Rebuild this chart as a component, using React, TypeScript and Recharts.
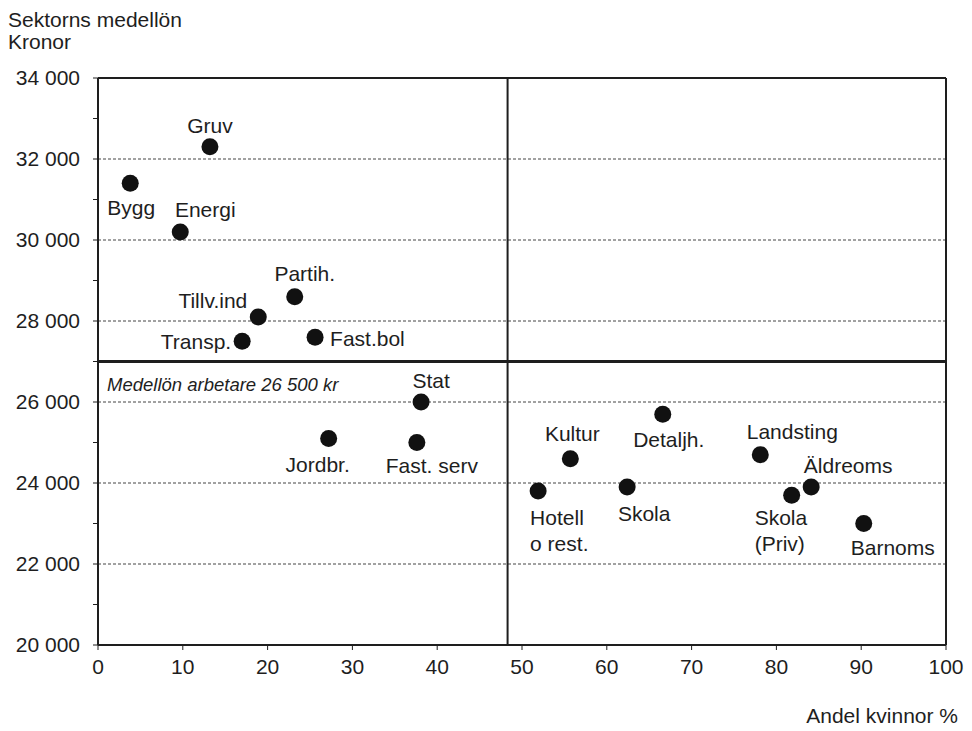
import { ScatterChart, Scatter, XAxis, YAxis, ReferenceLine } from "recharts";

// Sektorer: andel kvinnor (%) och sektorns medellön (kr)
const sectors = [
  "Gruv", "Bygg", "Energi", "Partih.", "Tillv.ind", "Transp.", "Fast.bol", "Stat", "Jordbr.",
  "Fast. serv", "Kultur", "Detaljh.", "Hotell\no rest.", "Skola", "Landsting", "Äldreoms",
  "Skola\n(Priv)", "Barnoms",
];
const womenShare = [13.2, 3.8, 9.7, 23.2, 18.9, 17.0, 25.6, 38.1, 27.2, 37.6, 55.7, 66.6, 51.9, 62.4, 78.1, 84.1, 81.8, 90.3];
const avgSalary = [32300, 31400, 30200, 28600, 28100, 27500, 27600, 26000, 25100, 25000, 24600, 25700, 23800, 23900, 24700, 23900, 23700, 23000];

const xTicks = [0, 10, 20, 30, 40, 50, 60, 70, 80, 90, 100];
const yTicks = [20000, 21000, 22000, 23000, 24000, 25000, 26000, 27000, 28000, 29000, 30000, 31000, 32000, 33000, 34000];
const gridValues = [22000, 24000, 26000, 28000, 30000, 32000];

const workerAvg = 27000; // linjen ritas vid ca 27 000
const workerAvgLabel = "Medellön arbetare 26 500 kr";
const womenSplit = 48.3;

// label placement: [dx, dy, anchor]
const labelPos: [number, number, string][] = [
  [0, -21, "middle"], [1, 24, "middle"], [25, -22, "middle"], [10, -23, "middle"],
  [-11, -16, "end"], [-11, 0, "end"], [15, 1, "start"], [10, -22, "middle"],
  [-11, 26, "middle"], [15, 23, "middle"], [2, -25, "middle"], [6, 25, "middle"],
  [-8, 26, "start"], [17, 26, "middle"], [32, -23, "middle"], [37, -22, "middle"],
  [-37, 22, "start"], [29, 24, "middle"],
];

const data = sectors.map((name, i) => ({ name, x: womenShare[i], y: avgSalary[i], i }));

const FONT = "'Liberation Sans', Arial, sans-serif";
const INK = "#1e1e1e";

const fmt = (v: number) => (v % 2000 === 0 ? String(v).replace(/(\d+)(\d{3})$/, "$1 $2") : "");

const Dot = (props: any) => {
  const { cx, cy, payload } = props;
  const [dx, dy, anchor] = labelPos[payload.i];
  const lines = String(payload.name).split("\n");
  return (
    <g>
      <circle cx={cx} cy={cy} r={8.5} fill="#111" />
      {lines.map((l, k) => (
        <text
          key={k}
          x={cx + dx}
          y={cy + dy + k * 26}
          textAnchor={anchor as any}
          dominantBaseline="central"
          fontFamily={FONT}
          fontSize={21}
          fill={INK}
        >
          {l}
        </text>
      ))}
    </g>
  );
};

const AvgLabel = (props: any) => {
  const { viewBox } = props;
  return (
    <text
      x={viewBox.x + 9}
      y={viewBox.y + 23}
      dominantBaseline="central"
      fontFamily={FONT}
      fontSize={18.5}
      fontStyle="italic"
      fill={INK}
    >
      {workerAvgLabel}
    </text>
  );
};

export default function App() {
  return (
    <div style={{ position: "relative", width: 956, height: 715, fontFamily: FONT, color: INK }}>
      <div style={{ position: "absolute", left: 0, top: 1, fontSize: 21, lineHeight: "21px" }}>Sektorns medellön</div>
      <div style={{ position: "absolute", left: 0, top: 23, fontSize: 21, lineHeight: "21px" }}>Kronor</div>
      <div style={{ position: "absolute", right: 6, top: 697, fontSize: 21, lineHeight: "21px", zIndex: 1 }}>Andel kvinnor %</div>
      <ScatterChart width={956} height={715} margin={{ top: 70, right: 18, bottom: 48, left: 0 }}>
        {gridValues.map((v) => (
          <ReferenceLine key={v} y={v} stroke="#444" strokeWidth={1} strokeDasharray="3 2" />
        ))}
        <ReferenceLine y={34000} stroke={INK} strokeWidth={2} />
        <ReferenceLine x={100} stroke={INK} strokeWidth={2} />
        <ReferenceLine x={womenSplit} stroke={INK} strokeWidth={2} />
        <ReferenceLine y={workerAvg} stroke={INK} strokeWidth={3} label={<AvgLabel />} />
        <XAxis
          type="number"
          dataKey="x"
          domain={[0, 100]}
          ticks={xTicks}
          height={30}
          tickSize={5}
          tickMargin={9}
          axisLine={{ stroke: INK, strokeWidth: 2 }}
          tickLine={{ stroke: INK }}
          tick={{ fontFamily: FONT, fontSize: 21, fill: INK }}
          interval={0}
        />
        <YAxis
          type="number"
          dataKey="y"
          domain={[20000, 34000]}
          ticks={yTicks}
          width={90}
          tickSize={5}
          tickMargin={13}
          tickFormatter={fmt}
          axisLine={{ stroke: INK, strokeWidth: 2 }}
          tickLine={{ stroke: INK }}
          tick={{ fontFamily: FONT, fontSize: 21, fill: INK }}
          interval={0}
        />
        <Scatter data={data} isAnimationActive={false} shape={<Dot />} />
      </ScatterChart>
    </div>
  );
}
